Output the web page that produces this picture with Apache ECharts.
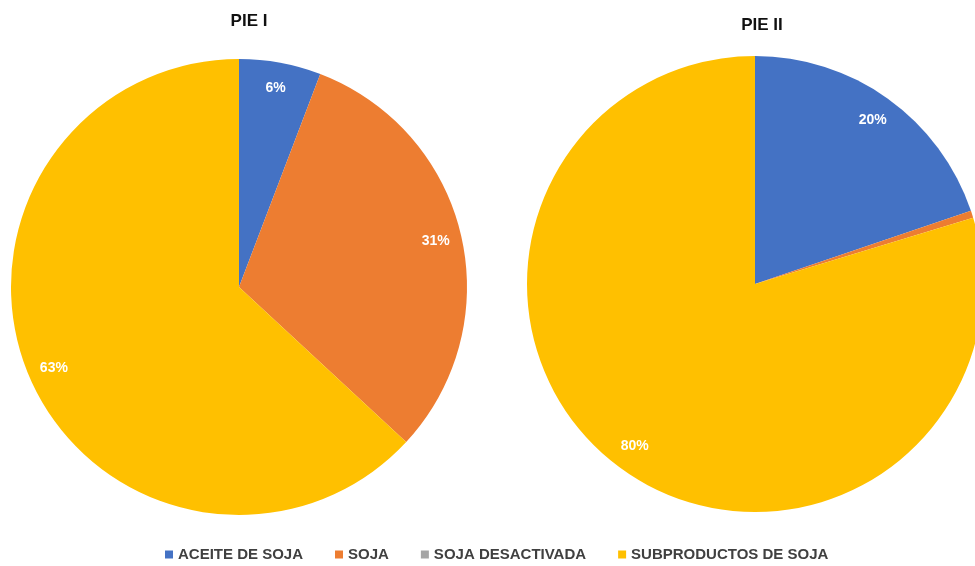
<!DOCTYPE html>
<html>
<head>
    <meta charset="UTF-8">
    <title>PIE I / PIE II</title>
    <style>
        html, body { margin: 0; padding: 0; background: #fff; }
        #main { width: 975px; height: 566px; }
    </style>
    <script src="https://cdn.jsdelivr.net/npm/echarts@6/dist/echarts.min.js"></script>
</head>
<body>
    <div id="main"></div>
    <script type="text/javascript">
        // categorias y valores (%)
        var categorias = ['ACEITE DE SOJA', 'SOJA', 'SOJA DESACTIVADA', 'SUBPRODUCTOS DE SOJA'];
        var colores = ['#4472C4', '#ED7D31', '#A5A5A5', '#FFC000'];
        var pie1 = [5.8, 31.1, 0, 63.1];
        var pie2 = [19.8, 0.5, 0, 79.7];
        var titulos = ['PIE I', 'PIE II'];

        function armarDatos(valores) {
            var d = [];
            for (var i = 0; i < categorias.length; i++) {
                d.push({ name: categorias[i], value: valores[i], itemStyle: { color: colores[i] } });
            }
            return d;
        }

        function fmt(p) {
            return p.percent >= 2 ? Math.round(p.percent) + '%' : '';
        }

        var fuente = "'Liberation Sans Narrow', 'Liberation Sans', sans-serif";

        // pie visible + serie transparente solo para las etiquetas (más cerca del borde)
        function serie(valores, centro) {
            return [
                {
                    type: 'pie',
                    center: centro,
                    radius: 228,
                    startAngle: 90,
                    silent: true,
                    label: { show: false },
                    labelLine: { show: false },
                    data: armarDatos(valores)
                },
                {
                    type: 'pie',
                    center: centro,
                    radius: [170, 228],
                    startAngle: 90,
                    silent: true,
                    itemStyle: { color: 'transparent' },
                    label: {
                        show: true,
                        position: 'inside',
                        formatter: fmt,
                        color: '#fff',
                        fontWeight: 'bold',
                        fontSize: 14,
                        fontFamily: fuente
                    },
                    labelLine: { show: false },
                    data: armarDatos(valores).map(function (x) { return { name: x.name, value: x.value, itemStyle: { color: 'transparent' } }; })
                }
            ];
        }

        var myChart = echarts.init(document.getElementById('main'));

        var option = {
            backgroundColor: '#fff',
            animation: false,
            color: colores,
            title: [
                { text: titulos[0], left: 244, top: 8, textAlign: 'center',
                  textStyle: { fontSize: 17, fontWeight: 'bold', color: '#111', fontFamily: fuente } },
                { text: titulos[1], left: 757, top: 12, textAlign: 'center',
                  textStyle: { fontSize: 17, fontWeight: 'bold', color: '#111', fontFamily: fuente } }
            ],
            legend: {
                data: categorias,
                left: 160,
                top: 542,
                itemWidth: 8,
                itemHeight: 8,
                itemGap: 32,
                icon: 'rect',
                textStyle: { fontSize: 15, fontWeight: 'bold', color: '#404040', fontFamily: fuente }
            },
            series: serie(pie1, [239, 287]).concat(serie(pie2, [755, 284]))
        };

        myChart.setOption(option);
    </script>
</body>
</html>
